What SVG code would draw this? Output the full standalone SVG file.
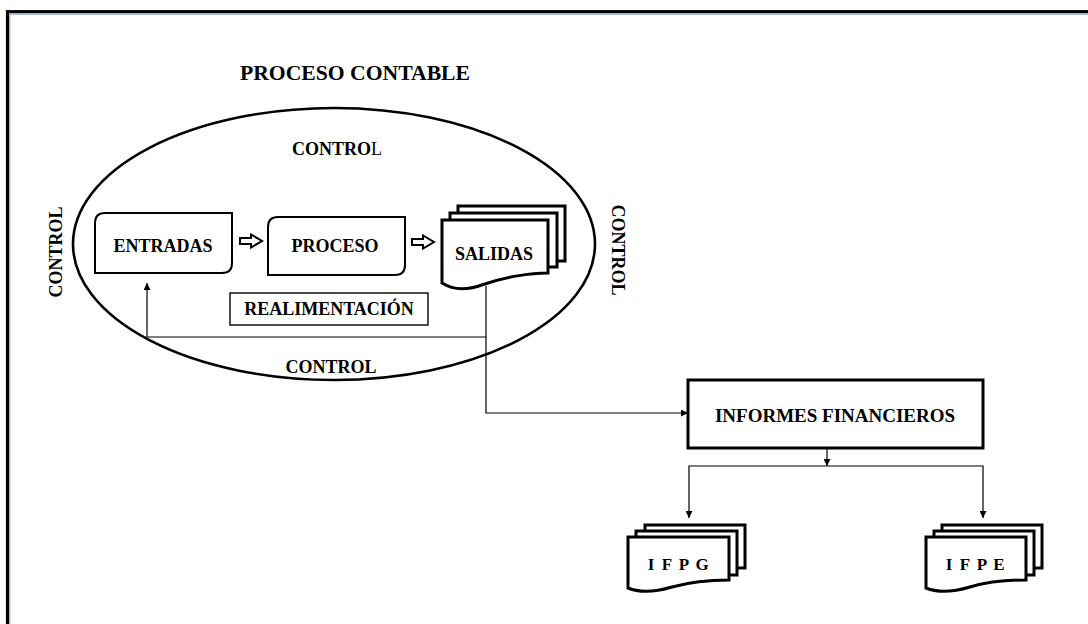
<svg xmlns="http://www.w3.org/2000/svg" width="1088" height="624" viewBox="0 0 1088 624">
  <defs>
    <style>
      .lbl { font-family: "Liberation Serif", "Times New Roman", serif; font-weight: bold; font-size: 18px; fill: #000; }
      .mid { text-anchor: middle; }
      .box { fill: #fff; stroke: #000; stroke-width: 2; }
      .doc { fill: #fff; stroke: #000; stroke-width: 3; stroke-linejoin: miter; }
      .wire { fill: none; stroke: #000; stroke-width: 1.2; }
      .blk { fill: #fff; stroke: #000; stroke-width: 2; stroke-linejoin: miter; }
    </style>
    <marker id="tip" viewBox="0 0 10 10" refX="10" refY="5" markerWidth="7" markerHeight="7" markerUnits="userSpaceOnUse" orient="auto">
      <path d="M0,0 L10,5 L0,10 Z" fill="#000"/>
    </marker>
    <path id="block-arrow" d="M0,-3 H11 V-6.5 L22,0 L11,6.5 V3 H0 Z"/>
  </defs>

  <rect width="1088" height="624" fill="#fff"/>

  <!-- page frame -->
  <g id="frame">
    <rect x="7.5" y="11.7" width="1200" height="700" fill="none" stroke="#000" stroke-width="3.2"/>
    <rect x="9.8" y="14.2" width="1200" height="700" fill="none" stroke="#8fb0d8" stroke-width="1.2"/>
  </g>

  <g id="title">
    <text class="lbl" x="240" y="80" style="font-size:20px" textLength="230" lengthAdjust="spacingAndGlyphs">PROCESO CONTABLE</text>
  </g>

  <!-- process boundary -->
  <g id="boundary">
    <ellipse cx="334" cy="244" rx="261" ry="136" fill="none" stroke="#000" stroke-width="2.6"/>
    <text class="lbl mid" x="337" y="155">CONTRO<tspan font-weight="normal">L</tspan></text>
    <text class="lbl mid" x="331" y="373">CONTROL</text>
    <text class="lbl mid" transform="translate(62 252) rotate(-90)">CONTROL</text>
    <text class="lbl mid" transform="translate(612 250) rotate(90)">CONTROL</text>
  </g>

  <!-- connectors -->
  <g id="connectors">
    <use href="#block-arrow" class="blk" x="240" y="241"/>
    <use href="#block-arrow" class="blk" x="412" y="242"/>
    <polyline class="wire" points="486,286 486,337 147,337 147,283" marker-end="url(#tip)"/>
    <polyline class="wire" points="486,337 486,413 688,413" marker-end="url(#tip)"/>
    <line class="wire" x1="827" y1="448" x2="827" y2="466" marker-end="url(#tip)"/>
    <polyline class="wire" points="827,466 689,466 689,518" marker-end="url(#tip)"/>
    <polyline class="wire" points="827,466 983,466 983,518" marker-end="url(#tip)"/>
  </g>

  <g id="entradas">
    <path class="box" d="M105,213 H232 V263 Q232,273 222,273 H95 V223 Q95,213 105,213 Z"/>
    <text class="lbl mid" x="163" y="252">ENTRADAS</text>
  </g>

  <g id="proceso">
    <path class="box" d="M278,217 H405 V265 Q405,275 395,275 H268 V227 Q268,217 278,217 Z"/>
    <text class="lbl mid" x="335" y="252">PROCESO</text>
  </g>

  <g id="salidas">
    <rect class="doc" x="458" y="206" width="107" height="55"/>
    <rect class="doc" x="450" y="213" width="107" height="54"/>
    <path class="doc" d="M442,220 H548 V273 C530,273 505,277 485,284 C468,290 455,291 442,283 Z"/>
    <text class="lbl mid" x="494" y="260">SALIDAS</text>
  </g>

  <g id="realimentacion">
    <rect x="230" y="293" width="198" height="32" fill="#fff" stroke="#000" stroke-width="1.4"/>
    <text class="lbl mid" x="329" y="315">REALIMENTACIÓN</text>
  </g>

  <g id="informes">
    <rect x="688" y="380" width="295" height="68" fill="#fff" stroke="#000" stroke-width="3"/>
    <text class="lbl mid" x="835" y="422" style="font-size:19px">INFORMES FINANCIEROS</text>
  </g>

  <g id="ifpg">
    <rect class="doc" x="645" y="525" width="100" height="43"/>
    <rect class="doc" x="636" y="531" width="101" height="44"/>
    <path class="doc" d="M628,537 H729 V580 C712,580 690,582 672,587 C655,592 640,593 628,588 Z"/>
    <text class="lbl mid" x="679" y="570" style="font-size:17px;letter-spacing:1.5px">I F P G</text>
  </g>

  <g id="ifpe">
    <rect class="doc" x="942" y="525" width="100" height="43"/>
    <rect class="doc" x="934" y="531" width="100" height="44"/>
    <path class="doc" d="M926,537 H1026 V580 C1009,580 987,582 970,587 C953,592 938,593 926,588 Z"/>
    <text class="lbl mid" x="976" y="570" style="font-size:17px;letter-spacing:1.5px">I F P E</text>
  </g>
</svg>
